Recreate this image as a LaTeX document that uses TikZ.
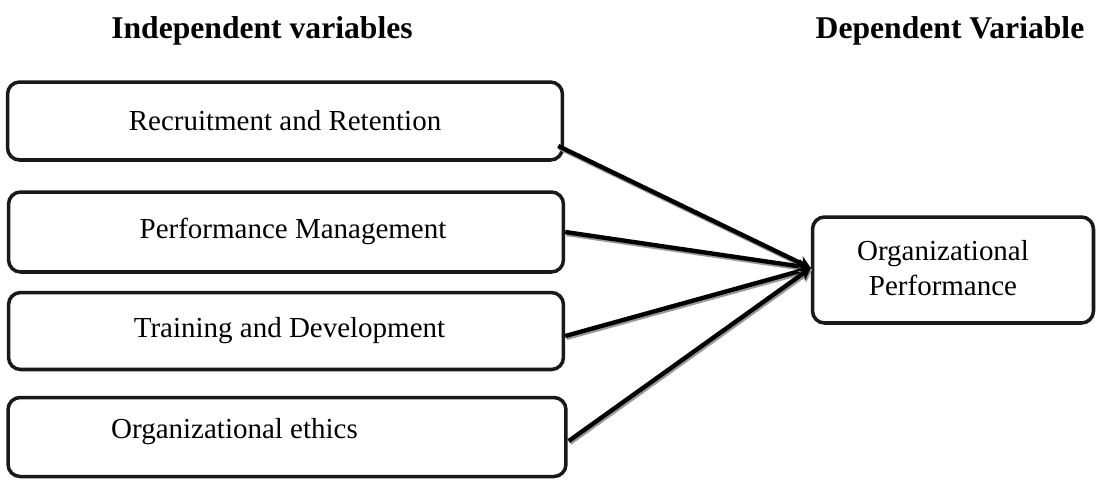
\documentclass[tikz,border=0pt]{standalone}
\usepackage{fontspec}
\setmainfont{Liberation Serif}
\usetikzlibrary{arrows.meta}
\begin{document}
\begin{tikzpicture}[x=0.02cm,y=-0.02cm,line join=round,font=\fontsize{16.5}{19.5}\selectfont,
	varbox/.style={draw=black!90,line width=2pt,rounded corners=0.24cm,minimum width=11.1cm,minimum height=1.56cm},
	link/.style={line width=2.5pt,-{Stealth[length=7pt,width=8pt]}},
	shade/.style={link,black!40,transform canvas={xshift=0.7pt,yshift=-1.1pt}},
	head/.style={font=\fontsize{18}{21}\selectfont\bfseries}]
	\useasboundingbox (0,0) rectangle (1097,481);
	% column titles
	\node[head] (indep) at (262,31) {Independent variables};
	\node[head] (dep) at (950,31) {Dependent Variable};
	% independent variables
	\node[varbox] (recruit) at (285,121) {Recruitment and Retention};
	\node[varbox,minimum height=1.6cm] (perf) at (286,232) {\hspace{8pt}\raisebox{4pt}{Performance Management}};
	\node[varbox,minimum height=1.54cm] (train) at (286,331) {\hspace{4pt}\raisebox{3pt}{Training and Development}};
	\node[varbox,minimum width=11.16cm,minimum height=1.58cm,
	  label={[xshift=-1.05cm,yshift=0.1cm]center:Organizational ethics}] (ethics) at (287,437) {};
	% dependent variable
	\node[varbox,minimum width=5.62cm,minimum height=2.12cm,
	  label={[xshift=-0.2cm,yshift=0.04cm,align=center]center:Organizational\\Performance}] (orgperf) at (953,270) {};
	\coordinate (tip) at ([yshift=0.04cm]orgperf.west);
	% arrows with their grey shadow
	\foreach \src/\dx/\dy in {recruit/-0.12/-0.5, perf/0/0, train/0/-0.1, ethics/0.02/-0.08}
	{
		\draw[shade] ([xshift=\dx cm,yshift=\dy cm]\src.east) -- (tip);
		\draw[link] ([xshift=\dx cm,yshift=\dy cm]\src.east) -- (tip);
	}
\end{tikzpicture}
\end{document}
